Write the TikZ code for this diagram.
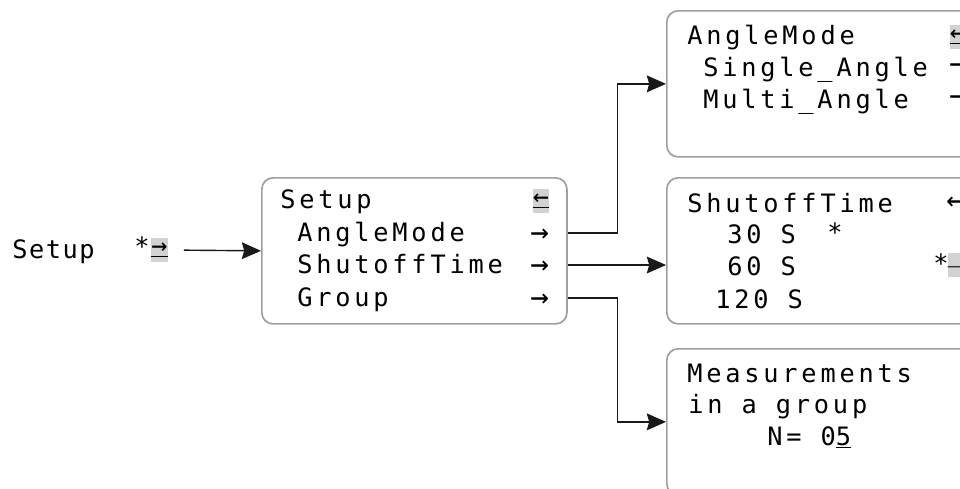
\documentclass[tikz,border=0pt]{standalone}
\usepackage{fontspec}
\usetikzlibrary{arrows.meta}
\newfontfamily\lcd[LetterSpace=15]{DejaVu Sans Mono}
\newfontfamily\lcdnarrow[LetterSpace=6]{DejaVu Sans Mono}

\begin{document}
\begin{tikzpicture}[x=0.025cm,y=-0.025cm,
	screen/.style={draw=gray!75, line width=1.2pt, rounded corners=8pt, anchor=north west, minimum height=3.65cm, inner sep=0pt},
	row/.style={anchor=west, inner sep=0pt, text height=12pt, text depth=0pt, font=\lcd\fontsize{18pt}{20pt}\selectfont},
	glyph/.style={row, text height=13pt, font=\lcd\fontsize{22pt}{24pt}\selectfont},
	cursor/.style={fill=gray!35, inner sep=0pt, minimum width=0.4cm, minimum height=0.58cm, font=\lcd\fontsize{19pt}{20pt}\selectfont},
	link/.style={draw=black!90, line width=1pt, -{Stealth[length=0.48cm,width=0.42cm,inset=0.06cm]}}]
	\clip (0,0) rectangle (960,488);
	\node[row, font=\lcdnarrow\fontsize{18pt}{20pt}\selectfont] (entry) at (12,250) {Setup};
	\node[row] (entryMark) at (134,247) {*};
	\node[cursor] (cursorIn) at (159.5,250) {\underline{→}};
	\node[screen, minimum width=7.625cm] (menu) at (261,177) {};
	\node[screen, minimum width=8.5cm] (modeBox) at (666,10) {};
	\node[screen, minimum width=8.5cm] (timeBox) at (666,177) {};
	\node[screen, minimum width=8.5cm] (groupBox) at (666,348) {};
	\node[row] (menuTitle) at (280,200) {Setup};
	\node[cursor] (menuBack) at (541,201) {\underline{←}};
	\node[row] (rowAngle) at (297,233) {AngleMode};
	\node[row] (rowTime) at (297,265) {ShutoffTime};
	\node[row] (rowGroup) at (297,298) {Group};
	\node[glyph] (goAngle) at (530,233) {→};
	\node[glyph] (goTime) at (530,265) {→};
	\node[glyph] (goGroup) at (530,298) {→};
	\node[row] (modeTitle) at (687,36) {AngleMode};
	\node[cursor] (modeBack) at (958,37) {\underline{←}};
	\node[row] (modeSingle) at (703,68) {Single\_Angle};
	\node[row] (modeMulti) at (703,100) {Multi\_Angle};
	\node[glyph] (modeGoSingle) at (949,64) {→};
	\node[glyph] (modeGoMulti) at (949,96) {→};
	\node[row] (timeTitle) at (687,204) {ShutoffTime};
	\node[glyph] (timeBack) at (946,201) {←};
	\node[row] (time30) at (727,235) {30 S};
	\node[row] (time30Mark) at (827,233) {*};
	\node[row] (time60) at (727,267) {60 S};
	\node[row] (time60Mark) at (933,264) {*};
	\node[cursor] (timeCursor) at (956,265) {\_};
	\node[row] (time120) at (715,300) {120 S};
	\node[row] (groupTitle) at (687,374) {Measurements};
	\node[row] (groupLine) at (688,405) {in a group};
	\node[row] (groupCount) at (767,437) {N= 0\underline{5}};
	\draw[link, shorten <=0.4cm] (cursorIn.east) -- (menu.west);
	\draw[link] (menu.east |- rowAngle.west) -- ++(50,0) |- (modeBox.west);
	\draw[link] (menu.east |- rowTime.west) -- (timeBox.west |- rowTime.west);
	\draw[link] (menu.east |- rowGroup.west) -- ++(50,0) |- (groupBox.west);
\end{tikzpicture}
\end{document}
